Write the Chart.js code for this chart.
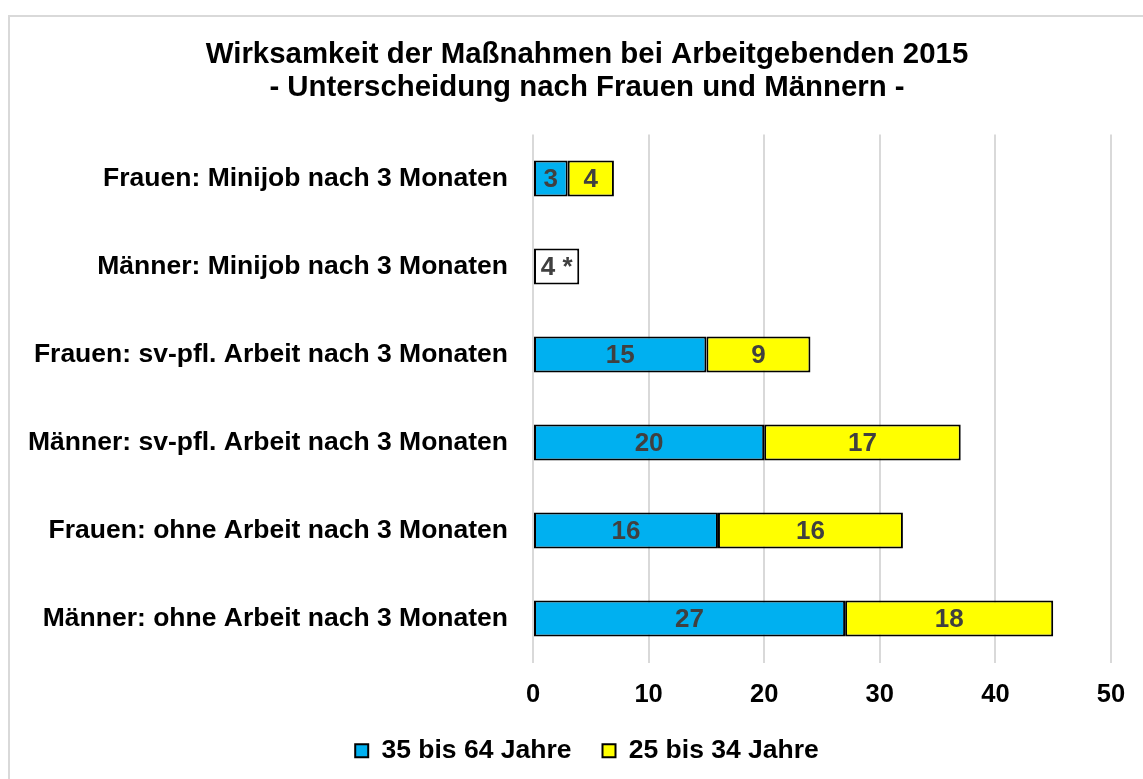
<!DOCTYPE html>
<html>
<head>
<meta charset="utf-8">
<script src="https://cdn.jsdelivr.net/npm/chart.js@4/dist/chart.umd.min.js"></script>
<style>
  html, body { margin: 0; padding: 0; background: #fff; overflow: hidden; }
  #frame { position: absolute; left: 8px; top: 15px; width: 1200px; height: 820px;
           border: 2px solid #d9d9d9; box-sizing: border-box; }
  #c { position: absolute; left: 0; top: 0; }
</style>
</head>
<body>
<div id="frame"></div>
<canvas id="c" width="1143" height="779"></canvas>
<script>
// Categories (top to bottom)
const categories = [
  'Frauen: Minijob nach 3 Monaten',
  'Männer: Minijob nach 3 Monaten',
  'Frauen: sv-pfl. Arbeit nach 3 Monaten',
  'Männer: sv-pfl. Arbeit nach 3 Monaten',
  'Frauen: ohne Arbeit nach 3 Monaten',
  'Männer: ohne Arbeit nach 3 Monaten'
];

// Series
const age35to64 = [3, null, 15, 20, 16, 27];
const age25to34 = [4, null, 9, 17, 16, 18];
// Men in minijobs: only a combined value is given (small case number, marked *)
const combinedSmallN = [null, 4, null, null, null, null];

// Value axis ticks
const xTicks = [0, 10, 20, 30, 40, 50];

const FONT = 'Arial, "Liberation Sans", Helvetica, sans-serif';

// Draws each segment's value centred inside the bar
const barValueLabels = {
  id: 'barValueLabels',
  afterDatasetsDraw(chart) {
    const ctx = chart.ctx;
    ctx.save();
    ctx.font = 'bold 26px ' + FONT;
    ctx.fillStyle = '#404040';
    ctx.textAlign = 'center';
    ctx.textBaseline = 'middle';
    chart.data.datasets.forEach((ds, di) => {
      const meta = chart.getDatasetMeta(di);
      meta.data.forEach((el, i) => {
        const v = ds.data[i];
        if (v === null || v === undefined) return;
        const p = el.getCenterPoint();
        const txt = ds.labelSuffix ? v + ds.labelSuffix : String(v);
        ctx.fillText(txt, p.x, p.y + 1);
      });
    });
    ctx.restore();
  }
};

// Title and legend are centred over the labelled area, not the whole canvas
const TITLE_LEFT = 63;
const centreBlocks = {
  id: 'centreBlocks',
  afterLayout(chart) {
    if (chart.titleBlock) chart.titleBlock.left = TITLE_LEFT;
    if (chart.legend) chart.legend.left = TITLE_LEFT;
  }
};

new Chart(document.getElementById('c'), {
  type: 'bar',
  data: {
    labels: categories,
    datasets: [
      {
        label: '35 bis 64 Jahre',
        data: age35to64,
        backgroundColor: '#00B0F0',
        borderColor: '#000000',
        borderWidth: 2,
        borderSkipped: false
      },
      {
        label: '25 bis 34 Jahre',
        data: age25to34,
        backgroundColor: '#FFFF00',
        borderColor: '#000000',
        borderWidth: 2,
        borderSkipped: false
      },
      {
        label: 'gesamt',
        data: combinedSmallN,
        labelSuffix: ' *',
        backgroundColor: '#FFFFFF',
        borderColor: '#000000',
        borderWidth: 2,
        borderSkipped: false
      }
    ]
  },
  options: {
    indexAxis: 'y',
    responsive: false,
    animation: false,
    devicePixelRatio: 1,
    datasets: { bar: { barPercentage: 0.41, categoryPercentage: 1.0 } },
    layout: { padding: { top: 22, right: 32, bottom: 5, left: 0 } },
    plugins: {
      title: {
        display: true,
        text: ['Wirksamkeit der Maßnahmen bei Arbeitgebenden 2015', '- Unterscheidung nach Frauen und Männern -'],
        color: '#000',
        font: { family: FONT, size: 29.4, weight: 'bold', lineHeight: 1.13 },
        padding: { top: 16, bottom: 30 }
      },
      legend: {
        position: 'bottom',
        labels: {
          color: '#000',
          font: { family: FONT, size: 26.5, weight: 'bold' },
          boxWidth: 13,
          boxHeight: 13,
          padding: 31,
          filter: (item) => item.datasetIndex < 2
        }
      },
      tooltip: { enabled: false }
    },
    scales: {
      x: {
        stacked: true,
        min: 0,
        max: 50,
        afterBuildTicks: (scale) => { scale.ticks = xTicks.map(v => ({ value: v })); },
        ticks: { color: '#000', font: { family: FONT, size: 25.5, weight: 'bold' }, padding: 17 },
        grid: { color: '#d9d9d9', lineWidth: 2, drawTicks: false },
        border: { display: false },
        afterFit: (scale) => { scale.height = 44; }
      },
      y: {
        stacked: true,
        ticks: { color: '#000', font: { family: FONT, size: 26.5, weight: 'bold' }, padding: 17 },
        grid: { display: false },
        border: { display: false },
        afterFit: (scale) => { scale.width = 533; }
      }
    }
  },
  plugins: [barValueLabels, centreBlocks]
});
</script>
</body>
</html>
